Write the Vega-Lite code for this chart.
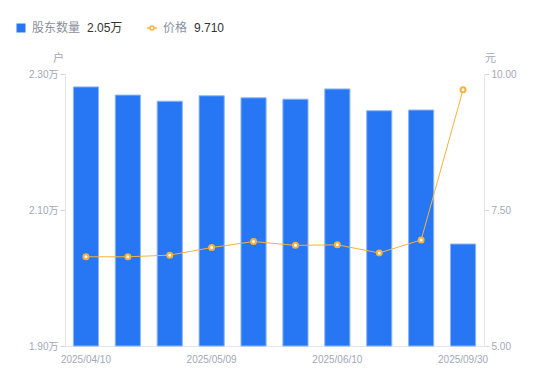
{
  "$schema": "https://vega.github.io/schema/vega-lite/v6.json",
  "autosize": {"type": "none"},
  "width": 419,
  "height": 272,
  "padding": {"left": 65, "top": 74, "right": 66, "bottom": 35},
  "background": "white",
  "config": {
    "view": {"stroke": null},
    "font": "Liberation Sans, Noto Sans CJK SC",
    "axis": {"labelFont": "Liberation Sans, Noto Sans CJK SC", "titleFont": "Noto Sans CJK SC"},
    "legend": {"labelFont": "Noto Sans CJK SC", "titleFont": "Liberation Sans, Noto Sans CJK SC"}
  },
  "data": {
    "values": [
      {"date": "2025/04/10", "holders": 2.281, "price": 6.64, "s1": "股东数量", "s2": "价格"},
      {"date": "2025/04/18", "holders": 2.269, "price": 6.64, "s1": "股东数量", "s2": "价格"},
      {"date": "2025/04/30", "holders": 2.260, "price": 6.67, "s1": "股东数量", "s2": "价格"},
      {"date": "2025/05/09", "holders": 2.268, "price": 6.81, "s1": "股东数量", "s2": "价格"},
      {"date": "2025/05/20", "holders": 2.265, "price": 6.92, "s1": "股东数量", "s2": "价格"},
      {"date": "2025/05/30", "holders": 2.263, "price": 6.85, "s1": "股东数量", "s2": "价格"},
      {"date": "2025/06/10", "holders": 2.278, "price": 6.86, "s1": "股东数量", "s2": "价格"},
      {"date": "2025/06/20", "holders": 2.246, "price": 6.71, "s1": "股东数量", "s2": "价格"},
      {"date": "2025/06/30", "holders": 2.247, "price": 6.95, "s1": "股东数量", "s2": "价格"},
      {"date": "2025/09/30", "holders": 2.05, "price": 9.71, "s1": "股东数量", "s2": "价格"}
    ]
  },
  "encoding": {
    "x": {
      "field": "date",
      "type": "ordinal",
      "sort": null,
      "scale": {"paddingInner": 0.4, "paddingOuter": 0.2},
      "axis": {
        "title": null,
        "values": ["2025/04/10", "2025/05/09", "2025/06/10", "2025/09/30"],
        "labelAngle": 0,
        "ticks": false,
        "domainColor": "#e3e5ea",
        "labelColor": "#a3a7b7",
        "labelFontSize": 10,
        "labelPadding": 8
      }
    }
  },
  "layer": [
    {
      "mark": {"type": "bar", "stroke": "#8db5f8", "strokeWidth": 1},
      "encoding": {
        "y": {
          "field": "holders",
          "type": "quantitative",
          "scale": {"domain": [1.9, 2.3], "zero": false, "nice": false},
          "axis": {
            "orient": "left",
            "values": [1.9, 2.1, 2.3],
            "labelExpr": "format(datum.value, '.2f') + '万'",
            "grid": false,
            "domainColor": "#e3e5ea",
            "tickColor": "#d5d8de",
            "tickSize": 5,
            "labelColor": "#a3a7b7",
            "labelFontSize": 10,
            "labelPadding": 2,
            "title": "户",
            "titleAngle": 0,
            "titleX": -7,
            "titleY": -16,
            "titleAlign": "center",
            "titleBaseline": "middle",
            "titleColor": "#a3a7b7",
            "titleFontSize": 11,
            "titleFontWeight": "normal"
          }
        },
        "y2": {"datum": 1.9},
        "fill": {
          "field": "s1",
          "type": "nominal",
          "scale": {"domain": ["股东数量"], "range": ["#2777f5"]},
          "legend": {
            "orient": "none",
            "legendX": -50,
            "legendY": -52,
            "title": "2.05万",
            "titleOrient": "right",
            "titleColor": "#333333",
            "titleFontSize": 12,
            "titleFontWeight": "normal",
            "titlePadding": 7,
            "titleBaseline": "middle",
            "symbolType": "square",
            "symbolSize": 81,
            "symbolStrokeWidth": 0,
            "labelColor": "#8a8f9e",
            "labelFontSize": 12,
            "labelOffset": 5
          }
        }
      }
    },
    {
      "mark": {"type": "line", "strokeWidth": 1, "point": {"filled": true, "fill": "white", "stroke": "#f7b23b", "strokeWidth": 2, "size": 25}},
      "encoding": {
        "y": {
          "field": "price",
          "type": "quantitative",
          "scale": {"domain": [5, 10], "zero": false, "nice": false},
          "axis": {
            "orient": "right",
            "values": [5, 7.5, 10],
            "format": ".2f",
            "grid": false,
            "domainColor": "#e3e5ea",
            "tickColor": "#d5d8de",
            "tickSize": 5,
            "labelColor": "#a3a7b7",
            "labelFontSize": 10,
            "labelPadding": 2,
            "title": "元",
            "titleAngle": 0,
            "titleX": 6,
            "titleY": -16,
            "titleAlign": "center",
            "titleBaseline": "middle",
            "titleColor": "#a3a7b7",
            "titleFontSize": 11,
            "titleFontWeight": "normal"
          }
        },
        "stroke": {
          "field": "s2",
          "type": "nominal",
          "scale": {"domain": ["价格"], "range": ["#f7b23b"]},
          "legend": {
            "orient": "none",
            "legendX": 81,
            "legendY": -52,
            "title": "9.710",
            "titleOrient": "right",
            "titleColor": "#333333",
            "titleFontSize": 12,
            "titleFontWeight": "normal",
            "titlePadding": 7,
            "titleBaseline": "middle",
            "symbolType": "M-1,0H-0.4M0.4,0H1M-0.4,0A0.4,0.4,0,1,1,0.4,0A0.4,0.4,0,1,1,-0.4,0Z",
            "symbolSize": 100,
            "symbolFillColor": "white",
            "symbolStrokeWidth": 1.5,
            "labelColor": "#8a8f9e",
            "labelFontSize": 12,
            "labelOffset": 5
          }
        }
      }
    }
  ],
  "resolve": {"scale": {"y": "independent", "fill": "independent", "stroke": "independent"}}
}
